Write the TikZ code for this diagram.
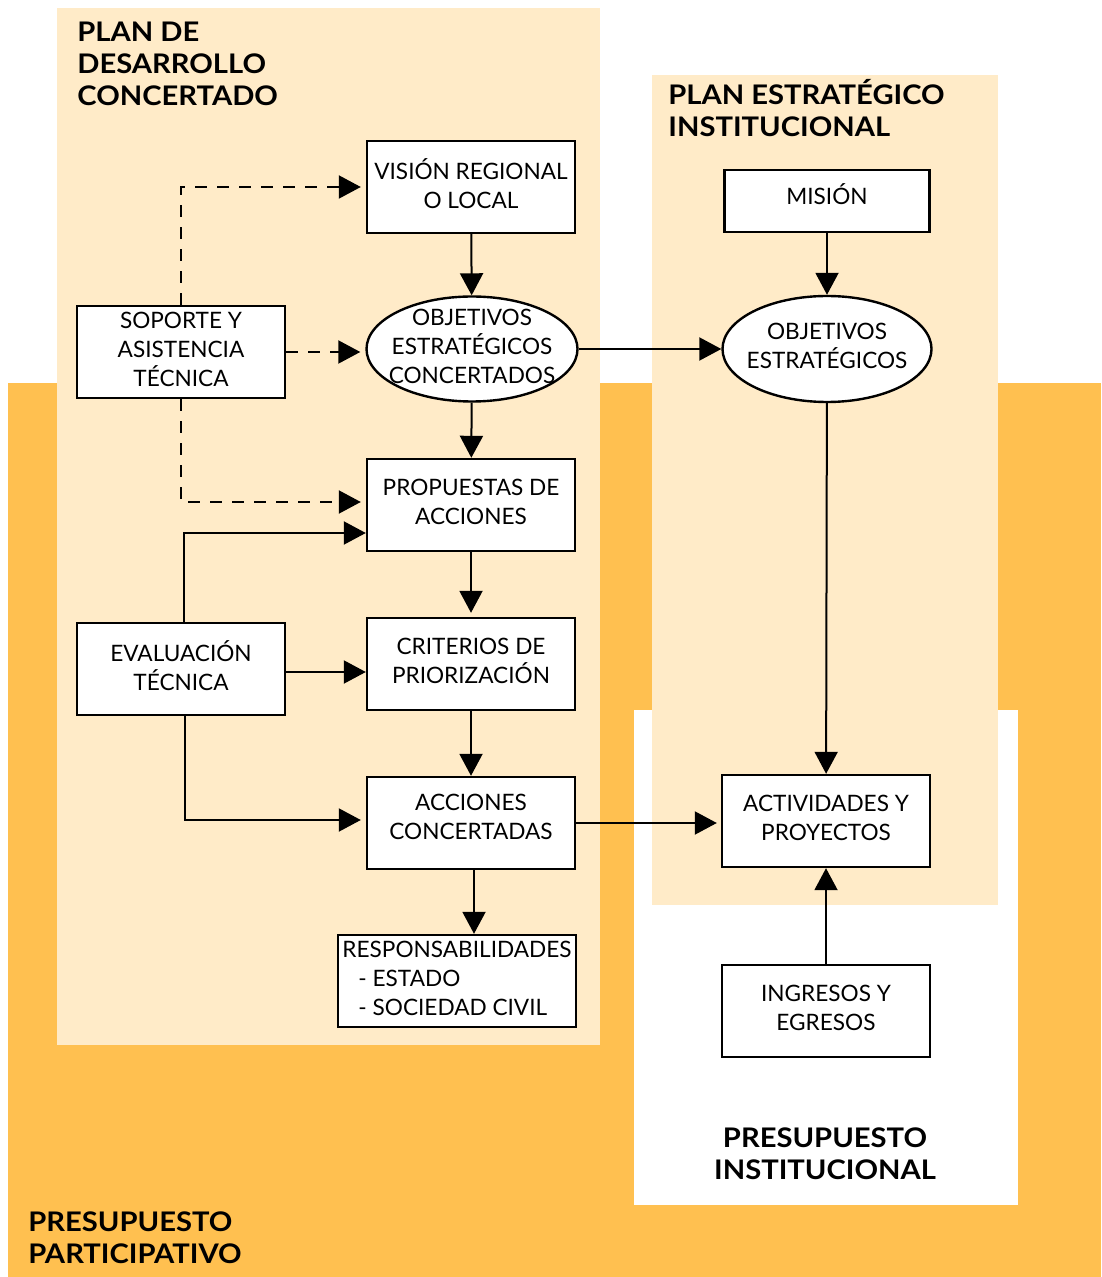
\documentclass[tikz,border=0pt]{standalone}
\usepackage{fontspec}
\setmainfont{Lato}[BoldFeatures={FakeStretch=1.08}]
\usetikzlibrary{arrows.meta,shapes.geometric}
\definecolor{naranja}{HTML}{FFC050}
\definecolor{crema}{HTML}{FFEBC8}
\tikzset{
  caja/.style={draw, line width=1.2pt, fill=white, minimum width=104pt, minimum height=46pt,
    align=center, inner sep=1pt, text depth=3pt, font=\fontsize{11.3}{14.5}\selectfont},
  elipse/.style={draw, line width=1.2pt, fill=white, ellipse, inner sep=0pt},
  texto/.style={align=center, inner sep=0pt, yshift=1.5pt, font=\fontsize{11.3}{14.5}\selectfont},
  titulo/.style={align=left, inner sep=0pt, font=\fontsize{13.5}{16}\selectfont\bfseries},
  flecha/.style={line width=1pt, -{Triangle[length=11pt,width=11.5pt]}},
  punteada/.style={flecha, dash pattern=on 6pt off 5pt}
}
\begin{document}
\begin{tikzpicture}[x=0.5pt, y=-0.5pt]
    \useasboundingbox (0,0) rectangle (1101,1277);
    % Fondos
    \fill[naranja] (8,383) rectangle (1101,1277);
    \fill[white] (634,710) rectangle (1018,1205);
    \fill[crema] (57,8) rectangle (600,1045);
    \fill[crema] (652,75) rectangle (998,905);

    % Titulos
    \node[titulo, anchor=west] (pdc) at (77,64) {PLAN DE\\DESARROLLO\\CONCERTADO};
    \node[titulo, anchor=west] (pei) at (668,108) {PLAN ESTRATÉGICO\\INSTITUCIONAL};
    \node[titulo, align=center] (pin) at (825,1154) {PRESUPUESTO\\INSTITUCIONAL};
    \node[titulo, anchor=west] (ppa) at (28,1238) {PRESUPUESTO\\PARTICIPATIVO};

    % Nodos
    \node[caja] (vision) at (471,187) {VISIÓN REGIONAL\\O LOCAL};
    \node[elipse, minimum width=105.5pt, minimum height=52.5pt] (objconc) at (472,349) {};
    \node[texto] at (objconc) {OBJETIVOS\\ESTRATÉGICOS\\CONCERTADOS};
    \node[caja] (soporte) at (181,352) {SOPORTE Y\\ASISTENCIA\\TÉCNICA};
    \node[caja] (propuestas) at (471,505) {PROPUESTAS DE\\ACCIONES};
    \node[caja] (criterios) at (471,664) {CRITERIOS DE\\PRIORIZACIÓN};
    \node[caja] (evaluacion) at (181,669) {EVALUACIÓN\\TÉCNICA};
    \node[caja, text depth=6pt] (acciones) at (471,823) {ACCIONES\\CONCERTADAS};
    \node[caja, align=left, minimum width=119pt] (resp) at (457,981)
        {RESPONSABILIDADES\\\hspace*{8pt}- ESTADO\\\hspace*{8pt}- SOCIEDAD CIVIL};
    \node[caja, minimum width=102.5pt, minimum height=31pt, text depth=7pt] (mision) at (827,201) {MISIÓN};
    \node[elipse, minimum width=104.5pt, minimum height=53pt] (objinst) at (827,349) {};
    \node[texto] at (objinst) {OBJETIVOS\\ESTRATÉGICOS};
    \node[caja] (actividades) at (826,821) {ACTIVIDADES Y\\PROYECTOS};
    \node[caja] (ingresos) at (826,1011) {INGRESOS Y\\EGRESOS};

    % Conectores punteados
    \draw[punteada, shorten >=2.5pt] (soporte.north) |- (vision.west);
    \draw[punteada, shorten >=2.5pt] (soporte.east) -- (soporte.east -| objconc.west);
    \draw[punteada, shorten >=2.5pt] (soporte.south) |- ([yshift=1.5pt]propuestas.west);

    % Conectores
    \draw[flecha] (vision) -- (objconc);
    \draw[flecha] (objconc) -- (propuestas);
    \draw[flecha, shorten >=2pt] (propuestas) -- (criterios);
    \draw[flecha] (criterios) -- (acciones);
    \draw[flecha] ([xshift=1.5pt]acciones.south) -- ([xshift=1.5pt]acciones.south |- resp.north);
    \draw[flecha] ([xshift=1.5pt]evaluacion.north) |- ([yshift=-14pt]propuestas.west);
    \draw[flecha] ([yshift=-1.5pt]evaluacion.east) -- ([yshift=-1.5pt]evaluacion.east -| criterios.west);
    \draw[flecha, shorten >=2.5pt] ([xshift=2pt]evaluacion.south) |- ([yshift=1.5pt]acciones.west);
    \draw[flecha] (objconc) -- (objinst);
    \draw[flecha, shorten >=2pt] (acciones.east) -- (acciones.east -| actividades.west);
    \draw[flecha] (mision) -- (objinst);
    \draw[flecha] (objinst) -- (actividades);
    \draw[flecha] (ingresos) -- (actividades);
\end{tikzpicture}
\end{document}
